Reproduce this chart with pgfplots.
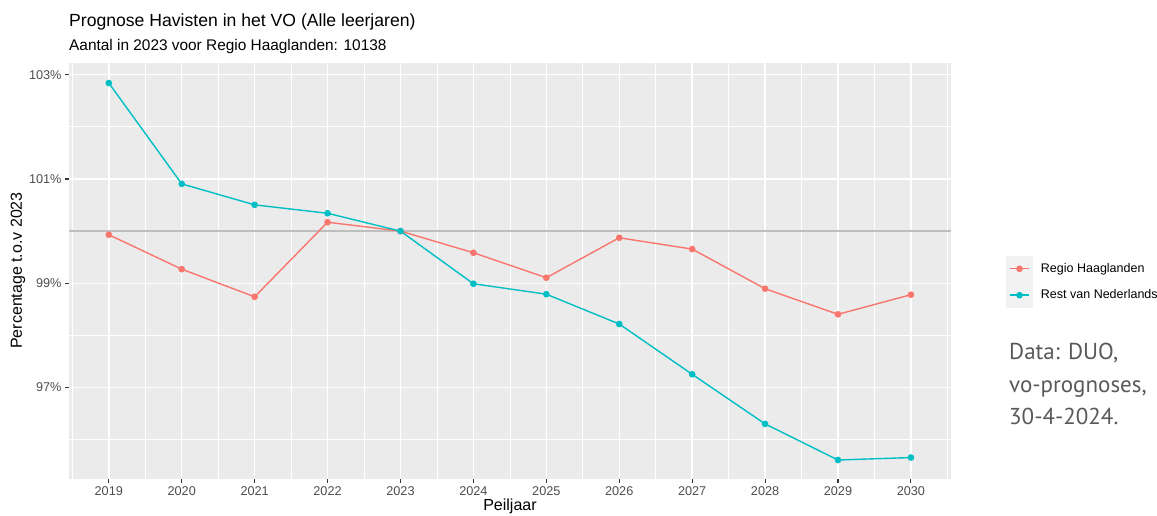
\documentclass[border=0pt]{standalone}
\usepackage{pgfplots}
\pgfplotsset{compat=1.18}
\usepackage{fontspec}
\setmainfont{Liberation Sans}
\newfontfamily\notefont{PT Sans}
\definecolor{rred}{HTML}{F8766D}
\definecolor{tteal}{HTML}{00BFC4}
\definecolor{panel}{HTML}{EBEBEB}
\definecolor{ticktxt}{HTML}{4D4D4D}
\definecolor{tickcol}{HTML}{333333}
\definecolor{keybg}{HTML}{F2F2F2}
\definecolor{notegray}{HTML}{595959}
\definecolor{hline}{HTML}{BEBEBE}

\begin{document}
\begin{tikzpicture}[x=1bp,y=1bp]
\useasboundingbox (0,0) rectangle (1157,516);
\begin{axis}[
  at={(68.7bp,36.7bp)}, anchor=south west,
  scale only axis, width=882.3bp, height=416.6bp,
  xmin=2018.45, xmax=2030.55, ymin=95.24, ymax=103.23,
  axis background/.style={fill=panel},
  axis line style={draw=none},
  xtick={2019,2020,2021,2022,2023,2024,2025,2026,2027,2028,2029,2030},
  xticklabels={2019,2020,2021,2022,2023,2024,2025,2026,2027,2028,2029,2030},
  minor xtick={2018.5,2019.5,2020.5,2021.5,2022.5,2023.5,2024.5,2025.5,2026.5,2027.5,2028.5,2029.5,2030.5},
  ytick={97,99,101,103},
  yticklabels={97\%,99\%,101\%,103\%},
  minor ytick={96,98,100,102},
  grid=both,
  major grid style={white, line width=1.4bp},
  minor grid style={white, line width=0.7bp},
  tick pos=left, tick align=outside,
  major tick length=3.7bp, minor tick length=0pt,
  every tick/.style={tickcol, line width=1.1bp},
  tick label style={font=\fontsize{12.7bp}{14bp}\selectfont, text=ticktxt},
  legend style={at={(1.0624,0.4736)}, anchor=west, draw=none, fill=none,
    inner sep=0pt, outer sep=0pt, row sep=0pt,
    font=\fontsize{12.5bp}{14bp}\selectfont,
    /tikz/every odd column/.append style={column sep=6bp}},
  legend cell align=left,
  legend image code/.code={
    \fill[keybg] (0bp,-12.5bp) rectangle (25.5bp,12.5bp);
    \draw[#1] (3bp,0bp) -- (22.5bp,0bp);
    \fill[#1] (12.75bp,0bp) circle (2.6bp);
  },
]
\addplot[hline, line width=1.3bp, forget plot] coordinates {(2018.45,100) (2030.55,100)};
\addplot[rred, line width=1.4bp, mark=*, mark size=2.6bp] coordinates {
  (2019,99.93) (2020,99.27) (2021,98.74) (2022,100.17) (2023,100.0) (2024,99.585)
  (2025,99.106) (2026,99.872) (2027,99.655) (2028,98.895) (2029,98.404) (2030,98.78)};
\addlegendentry{Regio Haaglanden}
\addplot[tteal, line width=1.4bp, mark=*, mark size=2.6bp] coordinates {
  (2019,102.84) (2020,100.906) (2021,100.503) (2022,100.342) (2023,100.0) (2024,98.99)
  (2025,98.79) (2026,98.218) (2027,97.254) (2028,96.302) (2029,95.61) (2030,95.657)};
\addlegendentry{Rest van Nederlands}
\end{axis}
\node[anchor=base west, inner sep=0pt, font=\fontsize{17.6bp}{20bp}\selectfont] at (69,489) {Prognose Havisten in het VO (Alle leerjaren)};
\node[anchor=base west, inner sep=0pt, font=\fontsize{15.4bp}{18bp}\selectfont] at (69,465.5) {Aantal in 2023 voor Regio Haaglanden: 10138};
\node[rotate=90, inner sep=0pt, font=\fontsize{16bp}{18bp}\selectfont] at (18,245.5) {Percentage t.o.v 2023};
\node[anchor=base, inner sep=0pt, font=\fontsize{16bp}{18bp}\selectfont] at (510,5) {Peiljaar};
\node[anchor=base west, inner sep=0pt, text=notegray, font=\notefont\fontsize{23bp}{28bp}\selectfont] at (1009,156) {Data: DUO,};
\node[anchor=base west, inner sep=0pt, text=notegray, font=\notefont\fontsize{23bp}{28bp}\selectfont] at (1009,123.5) {vo-prognoses,};
\node[anchor=base west, inner sep=0pt, text=notegray, font=\notefont\fontsize{23bp}{28bp}\selectfont] at (1009,91) {30-4-2024.};
\end{tikzpicture}
\end{document}
